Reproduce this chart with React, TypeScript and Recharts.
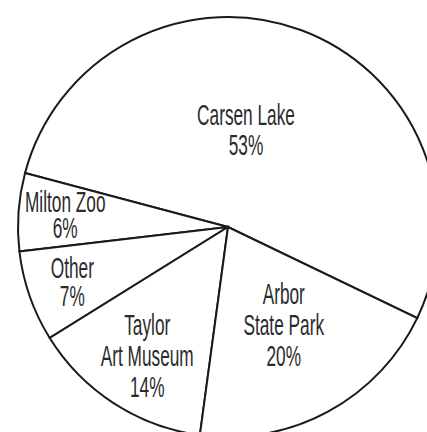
import { PieChart, Pie, Cell } from 'recharts';

const places = ['Carsen Lake', 'Milton Zoo', 'Other', 'Taylor Art Museum', 'Arbor State Park'];
const shares = [53, 6, 7, 14, 20];
const labelLines = [['Carsen Lake'], ['Milton Zoo'], ['Other'], ['Taylor', 'Art Museum'], ['Arbor', 'State Park']];

// where each label block sits: distance from centre and a small turn off the mid angle
const labelPlace = [
    { r: 96, turn: 9.5, gap: 30 },
    { r: 163, turn: 1, gap: 26 },
    { r: 166, turn: 1, gap: 28 },
    { r: 155, turn: 1.5, gap: 31 },
    { r: 115, turn: 0.7, gap: 31 },
];

const data = places.map((name, i) => ({ name, value: shares[i] }));

const RADIAN = Math.PI / 180;

function SliceLabel(props: any) {
    const { cx, cy, midAngle, index } = props;
    const spot = labelPlace[index];
    const a = (midAngle + spot.turn) * RADIAN;
    const x = cx + spot.r * Math.cos(a);
    const y = cy - spot.r * Math.sin(a);
    const lines = [...labelLines[index], `${shares[index]}%`];
    const n = lines.length;
    return (
        <g transform={`translate(${x},${y}) scale(0.575,1)`}>
            <text
                textAnchor="middle"
                fill="#2b2b2b"
                fontSize={30}
                fontFamily="'Liberation Sans', Arial, sans-serif"
            >
                {lines.map((line, i) => (
                    <tspan key={i} x={0} y={(i - (n - 1) / 2) * spot.gap + 7}>{line}</tspan>
                ))}
            </text>
        </g>
    );
}

export default function App() {
    return (
        <div style={{ position: 'absolute', left: 0, top: 0, width: 427, height: 432, background: '#fff' }}>
            <PieChart width={427} height={432}>
                <Pie
                    data={data}
                    dataKey="value"
                    cx={223}
                    cy={222}
                    outerRadius={210}
                    startAngle={-25.7}
                    endAngle={334.3}
                    stroke="#1a1a1a"
                    strokeWidth={2}
                    label={SliceLabel}
                    labelLine={false}
                    isAnimationActive={false}
                >
                    {data.map((entry, index) => (
                        <Cell key={`cell-${index}`} fill="#ffffff" />
                    ))}
                </Pie>
            </PieChart>
        </div>
    );
}
